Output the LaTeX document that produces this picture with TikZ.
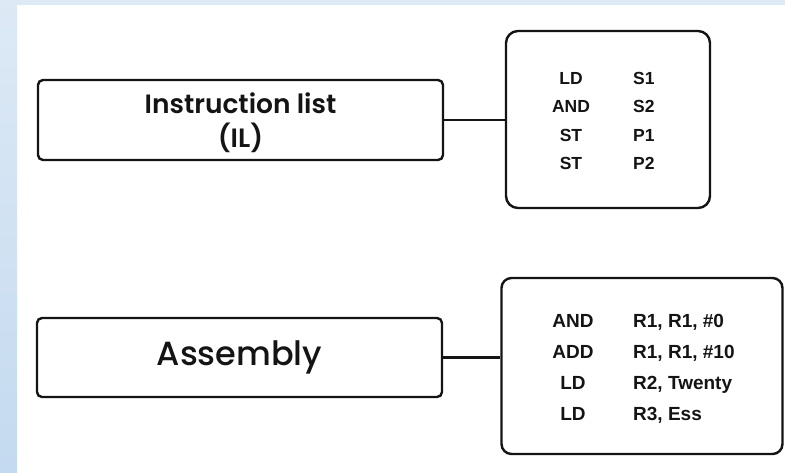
\documentclass[tikz,border=0pt]{standalone}
\usepackage{fontspec}
\setmainfont{Liberation Sans}
\newfontfamily\titlefont{Poppins}[BoldFont={Poppins SemiBold}]
\newfontfamily\asmfont{Poppins Medium}
\definecolor{stripA}{RGB}{221,233,245}
\definecolor{stripB}{RGB}{196,218,240}
\definecolor{ink}{RGB}{20,20,20}
\begin{document}
\begin{tikzpicture}[x=1pt,y=-1pt,
  box/.style={draw=ink,line width=2.4pt,fill=white,inner sep=0pt},
  link/.style={draw=ink,line width=2.2pt},
  code/.style={font=\fontsize{17.5}{20}\selectfont\bfseries,text=ink,inner sep=0pt,anchor=base},
  codeB/.style={font=\fontsize{19}{22}\selectfont\bfseries,text=ink,inner sep=0pt,anchor=base}]
\useasboundingbox (0,0) rectangle (785,472);
\fill[white] (0,0) rectangle (785,472);
\shade[top color=stripA,bottom color=stripB] (0,0) rectangle (17,472);
\fill[stripA] (17,0) rectangle (785,5);
% boxes
\node[box,rounded corners=5pt,minimum width=405pt,minimum height=80pt] (il) at (240.5,120) {};
\node[align=center,inner sep=0pt,text=ink,
  font=\titlefont\bfseries\fontsize{26.5}{34}\selectfont] (iltext) at (240.5,122.5) {Instruction list\\(IL)};
\node[box,rounded corners=12pt,minimum width=204pt,minimum height=177pt] (ilcode) at (608,119.5) {};
\node[box,rounded corners=5pt,minimum width=405pt,minimum height=79pt,text=ink,
  font=\asmfont\fontsize{33.5}{40}\selectfont] (asm) at (239.5,357.5) {Assembly};
\node[box,rounded corners=10pt,minimum width=281pt,minimum height=176pt] (asmcode) at (642,366) {};
% connectors
\draw[link] (il.east) -- (il.east -| ilcode.west);
\draw[link] (asm.east) -- (asm.east -| asmcode.west);
% IL code
\node[code] (a1) at (571,84) {LD};
\node[code] (a2) at (571,112) {AND};
\node[code] (a3) at (571,141) {ST};
\node[code] (a4) at (571,169) {ST};
\node[code,anchor=base west] (b1) at (633,84) {S1};
\node[code,anchor=base west] (b2) at (633,112) {S2};
\node[code,anchor=base west] (b3) at (633,141) {P1};
\node[code,anchor=base west] (b4) at (633,169) {P2};
% Assembly code
\node[codeB] (c1) at (573,327) {AND};
\node[codeB] (c2) at (573,358.5) {ADD};
\node[codeB] (c3) at (573,389.5) {LD};
\node[codeB] (c4) at (573,420.5) {LD};
\node[codeB,anchor=base west] (d1) at (633,327) {R1, R1, \#0};
\node[codeB,anchor=base west] (d2) at (633,358.5) {R1, R1, \#10};
\node[codeB,anchor=base west] (d3) at (633,389.5) {R2, Twenty};
\node[codeB,anchor=base west] (d4) at (633,420.5) {R3, Ess};
\end{tikzpicture}
\end{document}
